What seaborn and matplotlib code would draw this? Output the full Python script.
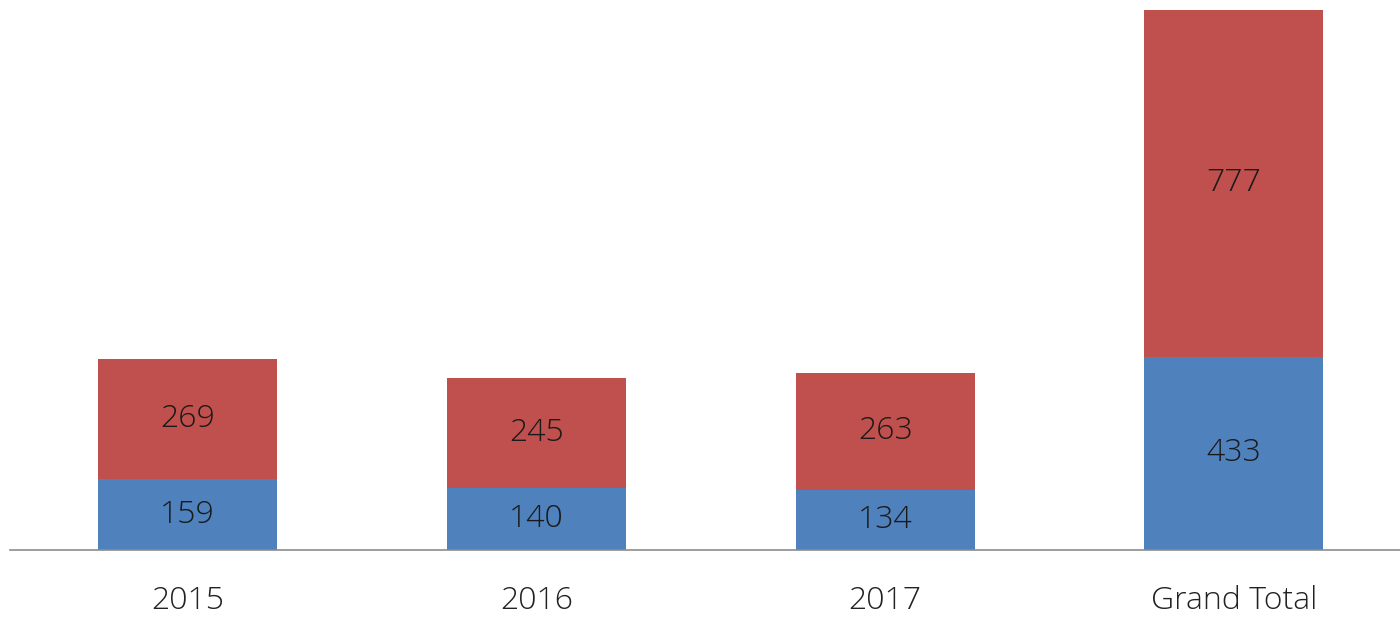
import matplotlib
matplotlib.use("Agg")
import matplotlib.pyplot as plt
import seaborn as sns
import pandas as pd

# data
categories = ["2015", "2016", "2017", "Grand Total"]
blue_vals = [159, 140, 134, 433]
red_vals = [269, 245, 263, 777]

blue_color = "#4F81BD"
red_color = "#C0504D"

sns.set_style("white")
plt.rcParams["font.family"] = ["Open Sans", "DejaVu Sans"]

df = pd.DataFrame({"cat": categories, "blue": blue_vals, "red": red_vals})
df["total"] = df["blue"] + df["red"]

fig = plt.figure(figsize=(14, 6.18), dpi=100)
ax = fig.add_axes([10 / 1400, 1 - 550 / 618, 1390 / 1400, 550 / 618])

# stacked bars: total in red, blue drawn over the lower part
sns.barplot(data=df, x="cat", y="total", color=red_color, width=0.513,
            saturation=1, linewidth=0, ax=ax)
sns.barplot(data=df, x="cat", y="blue", color=blue_color, width=0.513,
            saturation=1, linewidth=0, ax=ax)

for i, row in df.iterrows():
    ax.text(i, row["blue"] / 2, str(row["blue"]), ha="center", va="center",
            fontsize=23, color="#1a1a1a", fontweight="light")
    ax.text(i, row["blue"] + row["red"] / 2, str(row["red"]), ha="center",
            va="center", fontsize=23, color="#1a1a1a", fontweight="light")

ax.set_xlim(-0.509, 3.476)
ax.set_ylim(0, 1232)
ax.set_xlabel("")
ax.set_ylabel("")
ax.set_yticks([])
ax.tick_params(axis="x", length=0, pad=25, labelsize=23, labelcolor="#222222")
for lbl in ax.get_xticklabels():
    lbl.set_fontweight("light")
for s in ["top", "right", "left"]:
    ax.spines[s].set_visible(False)
ax.spines["bottom"].set_color("#8c8c8c")
ax.spines["bottom"].set_linewidth(1.2)

fig.savefig("out.png", dpi=100)
